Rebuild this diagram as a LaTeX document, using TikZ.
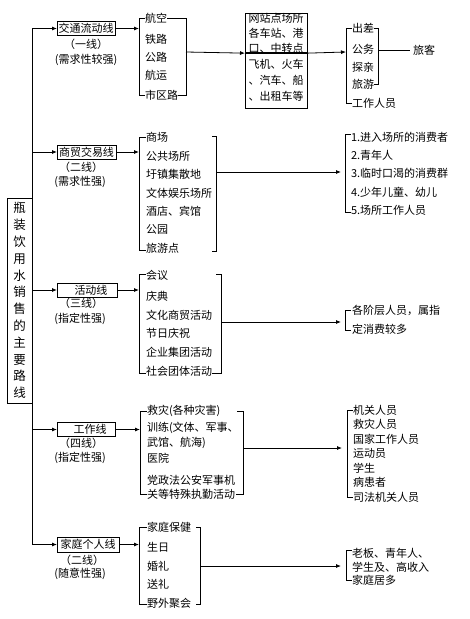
\documentclass[tikz,border=0pt]{standalone}
\usepackage{fontspec}
\setmainfont{Noto Sans CJK SC}
\usetikzlibrary{arrows.meta}
\begin{document}
\begin{tikzpicture}[x=1pt,y=-1pt,
  every node/.style={font=\fontsize{11}{13}\selectfont, inner sep=0pt, outer sep=0pt},
  txt/.style={anchor=west},
  ln/.style={line width=0.8pt},
  lbox/.style={draw, line width=0.8pt, minimum height=14pt},
  arr/.style={line width=0.8pt, -{Latex[length=5pt,width=4pt]}},
]
\fill[white] (0,0) rectangle (470,619);
\useasboundingbox (0,0) rectangle (470,619);

% ---------- main box and trunk ----------
\node[draw, ln, minimum width=25pt, minimum height=205pt, align=center,
      font=\fontsize{12.5}{16.8}\selectfont] (main) at (19.5,300.5)
      {瓶\\装\\饮\\用\\水\\销\\售\\的\\主\\要\\路\\线};

\node[lbox, minimum width=58pt] (b1) at (86,28.5) {交通流动线};
\node[lbox, minimum width=59pt] (b2) at (86.5,152) {商贸交易线};
\node[lbox, minimum width=60pt] (b3) at (87,290) {\hspace{8pt}活动线};
\node[lbox, minimum width=58pt] (b4) at (86,429.5) {\hspace{8pt}工作线};
\node[lbox, minimum width=62pt, minimum height=15pt] (b5) at (88,544.5) {家庭个人线};

\coordinate (t1) at (32,28.5);
\coordinate (t2) at (32,152);
\coordinate (t3) at (32,290);
\coordinate (t4) at (32,429.5);
\coordinate (t5) at (32,544.5);
\draw[ln] (t1) -- (t5);
\draw[arr] (t1) -- (b1);
\draw[arr] (t2) -- (b2);
\draw[arr] (t3) -- (b3);
\draw[arr] (t4) -- (b4);
\draw[arr] (t5) -- (b5);

% sub labels
\node (s1a) at (86,44) {（一线）};
\node (s1b) at (86,60) {(需求性较强)};
\node (s2a) at (81,167) {（二线）};
\node (s2b) at (80,182) {(需求性强)};
\node (s3a) at (81,303) {（三线）};
\node (s3b) at (80,319) {(指定性强)};
\node (s4a) at (81,443) {（四线）};
\node (s4b) at (80,458) {(指定性强)};
\node (s5a) at (82,560) {（二线）};
\node (s5b) at (80,574) {(随意性强)};

% ---------- section 1 ----------
\node[txt] (l1a) at (145,18) {航空};
\node[txt] (l1b) at (145,39) {铁路};
\node[txt] (l1c) at (145,57) {公路};
\node[txt] (l1d) at (145,75) {航运};
\node[txt] (l1e) at (145,95) {市区路};
\draw[ln] (l1a.west) -- (139,18) -- (139,95) -- (l1e.west);
\draw[ln] (l1a.east) -- (186,18) -- (186,95) -- (l1e.east);
\coordinate (k1) at (139,28.5);
\draw[arr] (b1.east) -- (k1);

\node[draw, ln, minimum width=62pt, minimum height=39pt, align=left, anchor=north west,
      font=\fontsize{11}{15}\selectfont] (rtop) at (245,13) {网站点场所\\各车站、港\\口、中转点};
\node[draw, ln, minimum width=62pt, minimum height=56pt, align=left, anchor=north west,
      font=\fontsize{11}{16}\selectfont] (rbot) at (245,52) {飞机、火车\\、汽车、船\\、出租车等};
\coordinate (r1) at (186,52);
\draw[arr] (r1) -- (rtop.south west);

\node[txt] (m1a) at (352,28) {出差};
\node[txt] (m1b) at (352,49) {公务};
\node[txt] (m1c) at (352,67) {探亲};
\node[txt] (m1d) at (352,84) {旅游};
\node[txt] (m1e) at (352,103) {工作人员};
\draw[ln] (m1a.west) -- (346,28) -- (346,103) -- (m1e.west);
\draw[ln] (374,28) -- (378,28) -- (378,84) -- (374,84);
\coordinate (k1b) at (346,52);
\draw[arr] (rtop.south east) -- (k1b);
\node[txt] (lk) at (413,50) {旅客};
\coordinate (r1b) at (378,50);
\draw[ln] (r1b) -- ([xshift=-3pt]lk.west);

% ---------- section 2 ----------
\node[txt] (l2a) at (146,137) {商场};
\node[txt] (l2b) at (146,156) {公共场所};
\node[txt] (l2c) at (146,174) {圩镇集散地};
\node[txt] (l2d) at (146,193) {文体娱乐场所};
\node[txt] (l2e) at (146,211) {酒店、宾馆};
\node[txt] (l2f) at (146,229) {公园};
\node[txt] (l2g) at (146,248) {旅游点};
\draw[ln] (l2a.west) -- (139,137) -- (139,250) -- (l2g.west |- 0,250);
\draw[ln] (212,136) -- (216,136) -- (216,251) -- (212,251);
\coordinate (k2) at (139,152);
\draw[arr] (b2.east) -- (k2);
\coordinate (r2) at (216,172);
\coordinate (k2b) at (341,172);
\draw[arr] (r2) -- (k2b);

\node[txt] (n2a) at (351,137) {1.进入场所的消费者};
\node[txt] (n2b) at (351,155) {2.青年人};
\node[txt] (n2c) at (351,173) {3.临时口渴的消费群};
\node[txt] (n2d) at (351,192) {4.少年儿童、幼儿};
\node[txt] (n2e) at (351,210) {5.场所工作人员};
\draw[ln] (351,134) -- (345,134) -- (345,212) -- (351,212);

% ---------- section 3 ----------
\node[txt] (l3a) at (146,275) {会议};
\node[txt] (l3b) at (146,296) {庆典};
\node[txt] (l3c) at (146,315) {文化商贸活动};
\node[txt] (l3d) at (146,333) {节日庆祝};
\node[txt] (l3e) at (146,352) {企业集团活动};
\node[txt] (l3f) at (146,371) {社会团体活动};
\draw[ln] (146,274) -- (139,274) -- (139,373) -- (146,373);
\draw[ln] (216,274) -- (221,274) -- (221,373) -- (l3f.east |- 0,373);
\coordinate (k3) at (139,290);
\draw[arr] (b3.east) -- (k3);
\coordinate (r3) at (221,322);
\coordinate (k3b) at (341,322);
\draw[arr] (r3) -- (k3b);

\node[txt] (n3a) at (352,310) {各阶层人员，属指};
\node[txt] (n3b) at (352,329) {定消费较多};
\draw[ln] (351,310) -- (345,310) -- (345,330) -- (351,330);

% ---------- section 4 ----------
\node[txt] (l4a) at (147,411) {救灾(各种灾害)};
\node[txt] (l4b) at (147,428) {训练(文体、军事、};
\node[txt] (l4c) at (147,443) {武馆、航海)};
\node[txt] (l4d) at (147,458) {医院};
\node[txt] (l4e) at (147,480) {党政法公安军事机};
\node[txt] (l4f) at (147,494) {关等特殊执勤活动};
\draw[ln] (147,411) -- (140,411) -- (140,494) -- (147,494);
\draw[ln] (237,411) -- (243,411) -- (243,494) -- (236,494);
\coordinate (k4) at (140,429.5);
\draw[arr] (b4.east) -- (k4);
\coordinate (r4) at (243,448);
\coordinate (k4b) at (342,448);
\draw[arr] (r4) -- (k4b);

\node[txt] (n4a) at (353,410) {机关人员};
\node[txt] (n4b) at (353,424.5) {救灾人员};
\node[txt] (n4c) at (353,439) {国家工作人员};
\node[txt] (n4d) at (353,453.5) {运动员};
\node[txt] (n4e) at (353,468) {学生};
\node[txt] (n4f) at (353,482.5) {病患者};
\node[txt] (n4g) at (353,497) {司法机关人员};
\draw[ln] (353,410) -- (347,410) -- (347,497) -- (353,497);

% ---------- section 5 ----------
\node[txt] (l5a) at (147,527) {家庭保健};
\node[txt] (l5b) at (147,547) {生日};
\node[txt] (l5c) at (147,566) {婚礼};
\node[txt] (l5d) at (147,584) {送礼};
\node[txt] (l5e) at (147,603) {野外聚会};
\draw[ln] (147,527) -- (139,527) -- (139,604) -- (147,604);
\draw[ln] (196,527) -- (200,527) -- (200,604) -- (196,604);
\coordinate (k5) at (139,544.5);
\draw[arr] (b5.east) -- (k5);
\coordinate (r5) at (200,566);
\coordinate (k5b) at (341,566);
\draw[arr] (r5) -- (k5b);

\node[txt] (n5a) at (352,553) {老板、青年人、};
\node[txt] (n5b) at (352,567) {学生及、高收入};
\node[txt] (n5c) at (352,580) {家庭居多};
\draw[ln] (352,550) -- (346,550) -- (346,580) -- (352,580);
\end{tikzpicture}
\end{document}
